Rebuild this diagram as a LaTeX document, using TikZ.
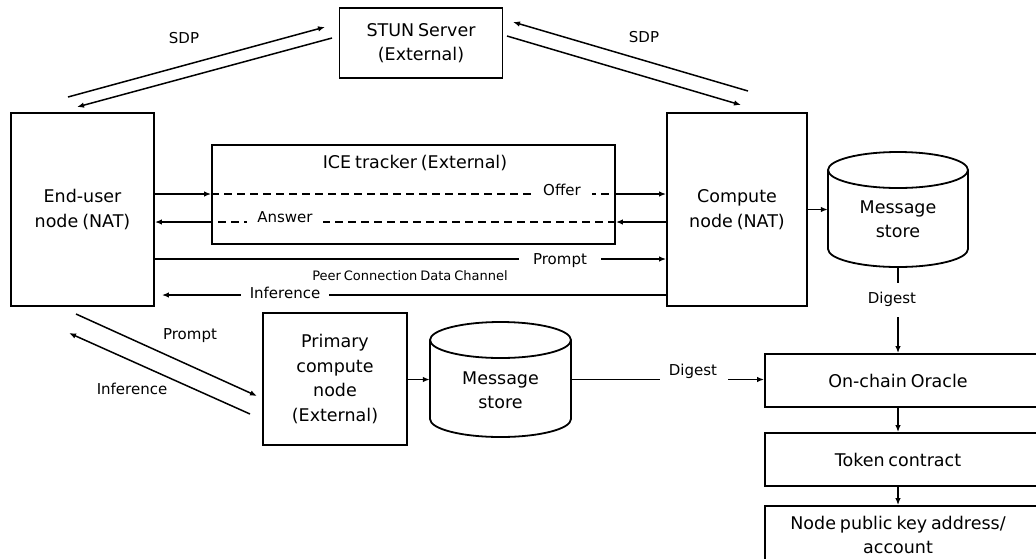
\documentclass[tikz,border=0pt]{standalone}
\usepackage{fontspec}
\setmainfont[WordSpace=0.7]{DejaVu Sans}
\usetikzlibrary{arrows.meta}
\begin{document}
\begin{tikzpicture}[x=1pt,y=-1pt,
  mainfont/.style={font=\fontsize{17.5}{24.5}\selectfont},
  box/.style={draw, line width=1.8pt, align=center, mainfont, inner sep=0pt},
  lbl/.style={font=\fontsize{15}{18}\selectfont, inner sep=1pt},
  gaplbl/.style={lbl, fill=white},
  conn/.style={line width=1.5pt},
  arr/.style={conn, -{Latex[length=7pt,width=5.5pt]}},
  dsh/.style={conn, dash pattern=on 8pt off 5pt},
  cyl/.style={line width=1.8pt},
]
\useasboundingbox (0,0) rectangle (1036,558);

% boxes
\node[box, minimum width=163pt, minimum height=70pt] (stun) at (421,43) {STUN Server\\(External)};
\node[box, minimum width=143pt, minimum height=193pt] (eu) at (82.5,209.5) {End-user\\node (NAT)};
\node[box, minimum width=140pt, minimum height=193pt] (cn) at (737,209.5) {Compute\\node (NAT)};
\node[draw, line width=1.8pt, minimum width=403pt, minimum height=99pt, inner sep=0pt] (ice) at (413.5,194.5) {};
\node[mainfont, inner sep=0pt] (icetitle) at (415,163) {ICE tracker (External)};
\node[box, minimum width=144pt, minimum height=132pt] (pc) at (335,379) {Primary\\compute\\node\\(External)};
\node[box, minimum width=280pt, minimum height=53pt] (oracle) at (905,380.5) {\hspace*{-14pt}On-chain Oracle};
\node[box, minimum width=280pt, minimum height=53pt] (token) at (905,459.5) {\hspace*{-14pt}Token contract};
\node[box, minimum width=280pt, minimum height=58pt] (acct) at (905,535) {\hspace*{-14pt}Node public key address/\\\hspace*{-14pt}account};

% message store 1
\node[minimum width=140pt, minimum height=115pt, inner sep=0pt] (ms1) at (898,209.5) {};
\draw[cyl] (828,170) -- (828,249) arc[start angle=180, end angle=360, x radius=70pt, y radius=18pt] -- (968,170);
\draw[cyl] (898,170) ellipse [x radius=70pt, y radius=18pt];
\node[mainfont, align=center, inner sep=0pt] (ms1t) at (898,219) {Message\\store};

% message store 2
\node[minimum width=141pt, minimum height=115pt, inner sep=0pt] (ms2) at (500.5,379.5) {};
\draw[cyl] (430,340) -- (430,419) arc[start angle=180, end angle=360, x radius=70.5pt, y radius=18pt] -- (571,340);
\draw[cyl] (500.5,340) ellipse [x radius=70.5pt, y radius=18pt];
\node[mainfont, align=center, inner sep=0pt] (ms2t) at (500.5,390) {Message\\store};

% SDP arrows
\coordinate (a1s) at (68,97);  \coordinate (a1e) at (325,27);
\coordinate (a2s) at (332,38); \coordinate (a2e) at (77,107);
\coordinate (b1s) at (748,91); \coordinate (b1e) at (513,22);
\coordinate (b2s) at (507,36); \coordinate (b2e) at (741,105);
\draw[arr] (a1s) -- (a1e);
\draw[arr] (a2s) -- (a2e);
\draw[arr] (b1s) -- (b1e);
\draw[arr] (b2s) -- (b2e);
\node[lbl] (sdpl) at (184,38) {SDP};
\node[lbl] (sdpr) at (644,37) {SDP};

% ICE offer / answer
\coordinate (yo) at (0,194);
\coordinate (ya) at (0,222);
\draw[arr] (eu.east |- yo) -- (ice.west |- yo);
\draw[dsh] (ice.west |- yo) -- (ice.east |- yo);
\draw[arr] (ice.east |- yo) -- (cn.west |- yo);
\node[gaplbl, inner xsep=11pt] (offer) at (562,190) {Offer};
\draw[arr] (cn.west |- ya) -- (ice.east |- ya);
\draw[dsh] (ice.east |- ya) -- (ice.west |- ya);
\draw[arr] (ice.west |- ya) -- (eu.east |- ya);
\node[gaplbl, inner xsep=10pt] (answer) at (285,217) {Answer};

% data channel
\coordinate (yp) at (0,259);
\coordinate (yi) at (0,295);
\draw[arr] (eu.east |- yp) -- (cn.west |- yp);
\node[gaplbl, inner xsep=14pt] (prompt) at (560,261) {Prompt};
\node[font=\fontsize{13}{15}\selectfont, inner sep=0pt] (pcdc) at (410,276) {Peer Connection Data Channel};
\draw[arr, shorten >=7pt] (cn.west |- yi) -- (eu.east |- yi);
\node[gaplbl, inner xsep=9pt] (infer) at (285,293) {Inference};

% primary compute diagonal
\coordinate (c1s) at (76,314);  \coordinate (c1e) at (257,396);
\coordinate (c2s) at (250,414); \coordinate (c2e) at (69,333);
\draw[arr] (c1s) -- (c1e);
\draw[arr] (c2s) -- (c2e);
\node[lbl] (prompt2) at (190,336) {Prompt};
\node[lbl] (infer2) at (132,389) {Inference};

% stores
\draw[arr] (cn.east) -- (ms1.west);
\draw[arr] (pc.east |- ms2.west) -- (ms2.west);

% digest from store 1
\coordinate (d1a) at (898,283);
\coordinate (d1b) at (898,317);
\draw[conn] (ms1.south) -- (d1a);
\node[lbl] (dig1) at (892,299) {Digest};
\draw[arr] (d1b) -- (oracle.north -| d1b);

% digest from store 2
\coordinate (d2a) at (660,379.5);
\coordinate (d2b) at (728,379.5);
\draw[conn] (ms2.east) -- (d2a);
\node[lbl] (dig2) at (693,371) {Digest};
\draw[arr] (d2b) -- (oracle.west |- d2b);

% chain
\draw[arr] (oracle.south -| d1b) -- (token.north -| d1b);
\draw[arr] (token.south -| d1b) -- (acct.north -| d1b);
\end{tikzpicture}
\end{document}
